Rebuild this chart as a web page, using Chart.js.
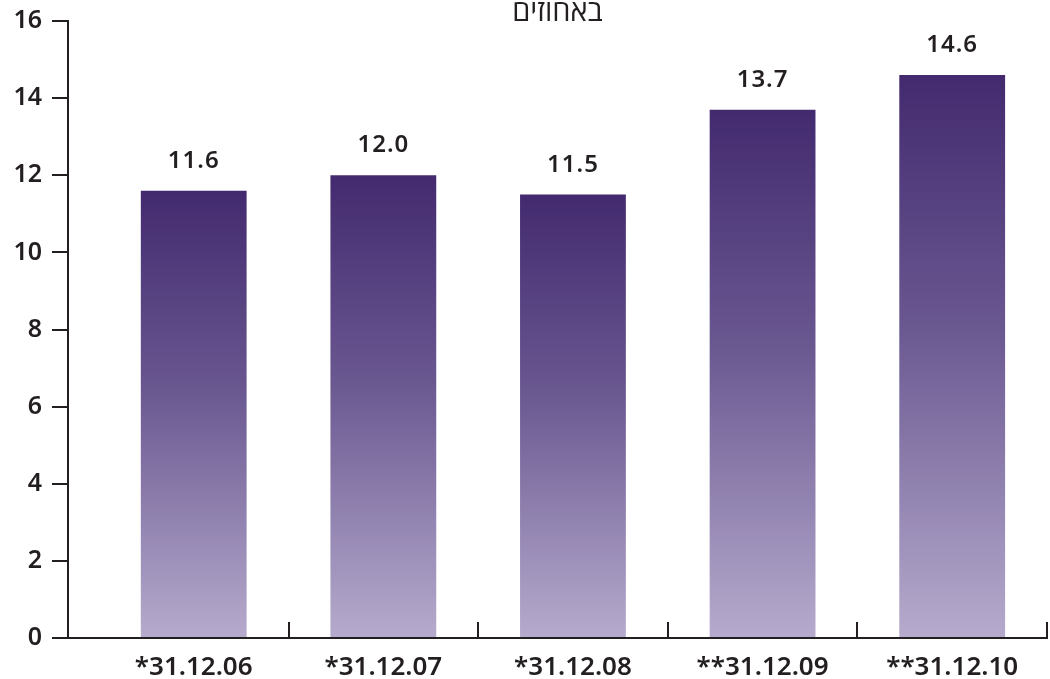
<!DOCTYPE html>
<html lang="he">
<head>
<meta charset="utf-8">
<style>
  html, body { margin: 0; padding: 0; background: #fff; }
  #wrap { width: 1050px; height: 679px; }
</style>
<script src="https://cdn.jsdelivr.net/npm/chart.js@4/dist/chart.umd.min.js"></script>
</head>
<body>
<div id="wrap"><canvas id="c" width="1050" height="679"></canvas></div>
<script>
// Dates of the observations and the ratio at each date (percent)
const categories = ['*31.12.06', '*31.12.07', '*31.12.08', '**31.12.09', '**31.12.10'];
const values = [11.6, 12.0, 11.5, 13.7, 14.6];
const valueLabels = ['11.6', '12.0', '11.5', '13.7', '14.6'];
const yTicks = [0, 2, 4, 6, 8, 10, 12, 14, 16];
const unitTitle = 'באחוזים';

const INK = '#231f20';
const FONT = '"Noto Sans", "Open Sans", sans-serif';

// Vertical gradient per bar: dark purple at the bar's top, pale lilac at the baseline
function barFill(ctx) {
  const chart = ctx.chart;
  const area = chart.chartArea;
  if (!area || ctx.raw == null) return '#6a5891';
  const yScale = chart.scales.y;
  const top = yScale.getPixelForValue(ctx.raw.y);
  const bottom = yScale.getPixelForValue(0);
  const g = chart.ctx.createLinearGradient(0, top, 0, bottom);
  g.addColorStop(0, '#432a6f');
  g.addColorStop(0.45, '#6a5891');
  g.addColorStop(1, '#b6abcd');
  return g;
}

// Category boundary marks rising from the x axis, value labels and unit caption
const decorations = {
  id: 'decorations',
  afterDatasetsDraw(chart) {
    const { ctx, chartArea, scales } = chart;
    const x = scales.x, y = scales.y;
    const base = y.getPixelForValue(0);
    ctx.save();
    ctx.strokeStyle = INK;
    ctx.lineWidth = 2;
    for (let i = 0; i < categories.length; i++) {
      const px = Math.round(x.getPixelForValue(i + 0.5));
      ctx.beginPath();
      ctx.moveTo(px, base);
      ctx.lineTo(px, base - 16);
      ctx.stroke();
    }
    ctx.fillStyle = INK;
    ctx.font = '600 24px ' + FONT;
    ctx.textAlign = 'center';
    ctx.textBaseline = 'alphabetic';
    if ('letterSpacing' in ctx) ctx.letterSpacing = '1px';
    const meta = chart.getDatasetMeta(0);
    meta.data.forEach((bar, i) => {
      ctx.fillText(valueLabels[i], bar.x, bar.y - 23);
    });
    if ('letterSpacing' in ctx) ctx.letterSpacing = '0px';
    ctx.font = '400 29px ' + FONT;
    ctx.direction = 'rtl';
    ctx.fillText(unitTitle, (chartArea.left + chartArea.right) / 2, 21);
    ctx.restore();
  }
};

new Chart(document.getElementById('c'), {
  type: 'bar',
  data: {
    datasets: [{
      data: values.map((v, i) => ({ x: i, y: v })),
      backgroundColor: barFill,
      borderWidth: 0,
      barPercentage: 0.558,
      categoryPercentage: 1
    }]
  },
  options: {
    responsive: false,
    animation: false,
    devicePixelRatio: 1,
    layout: { padding: { top: 21, right: 3, left: 0, bottom: 0 } },
    plugins: { legend: { display: false }, tooltip: { enabled: false }, title: { display: false } },
    scales: {
      x: {
        type: 'linear',
        offset: false,
        min: -0.663,
        max: 4.5,
        afterBuildTicks(scale) { scale.ticks = categories.map((_, i) => ({ value: i })); },
        afterFit(scale) { scale.height = 41; scale.paddingLeft = 0; scale.paddingRight = 0; },
        grid: { display: false },
        border: { display: true, color: INK, width: 2 },
        ticks: {
          autoSkip: false,
          maxRotation: 0,
          padding: 6,
          color: INK,
          font: { family: FONT, size: 26, weight: '600' },
          callback: (v) => categories[v] ?? ''
        }
      },
      y: {
        min: 0,
        max: 16,
        afterBuildTicks(scale) { scale.ticks = yTicks.map(v => ({ value: v })); },
        afterFit(scale) { scale.width = 68; scale.paddingTop = 0; scale.paddingBottom = 0; },
        grid: { drawOnChartArea: false, drawTicks: true, tickLength: 16, color: INK, lineWidth: 2 },
        border: { display: true, color: INK, width: 2 },
        ticks: {
          padding: 10,
          color: INK,
          font: { family: FONT, size: 25, weight: '600' }
        }
      }
    }
  },
  plugins: [decorations]
});
</script>
</body>
</html>
